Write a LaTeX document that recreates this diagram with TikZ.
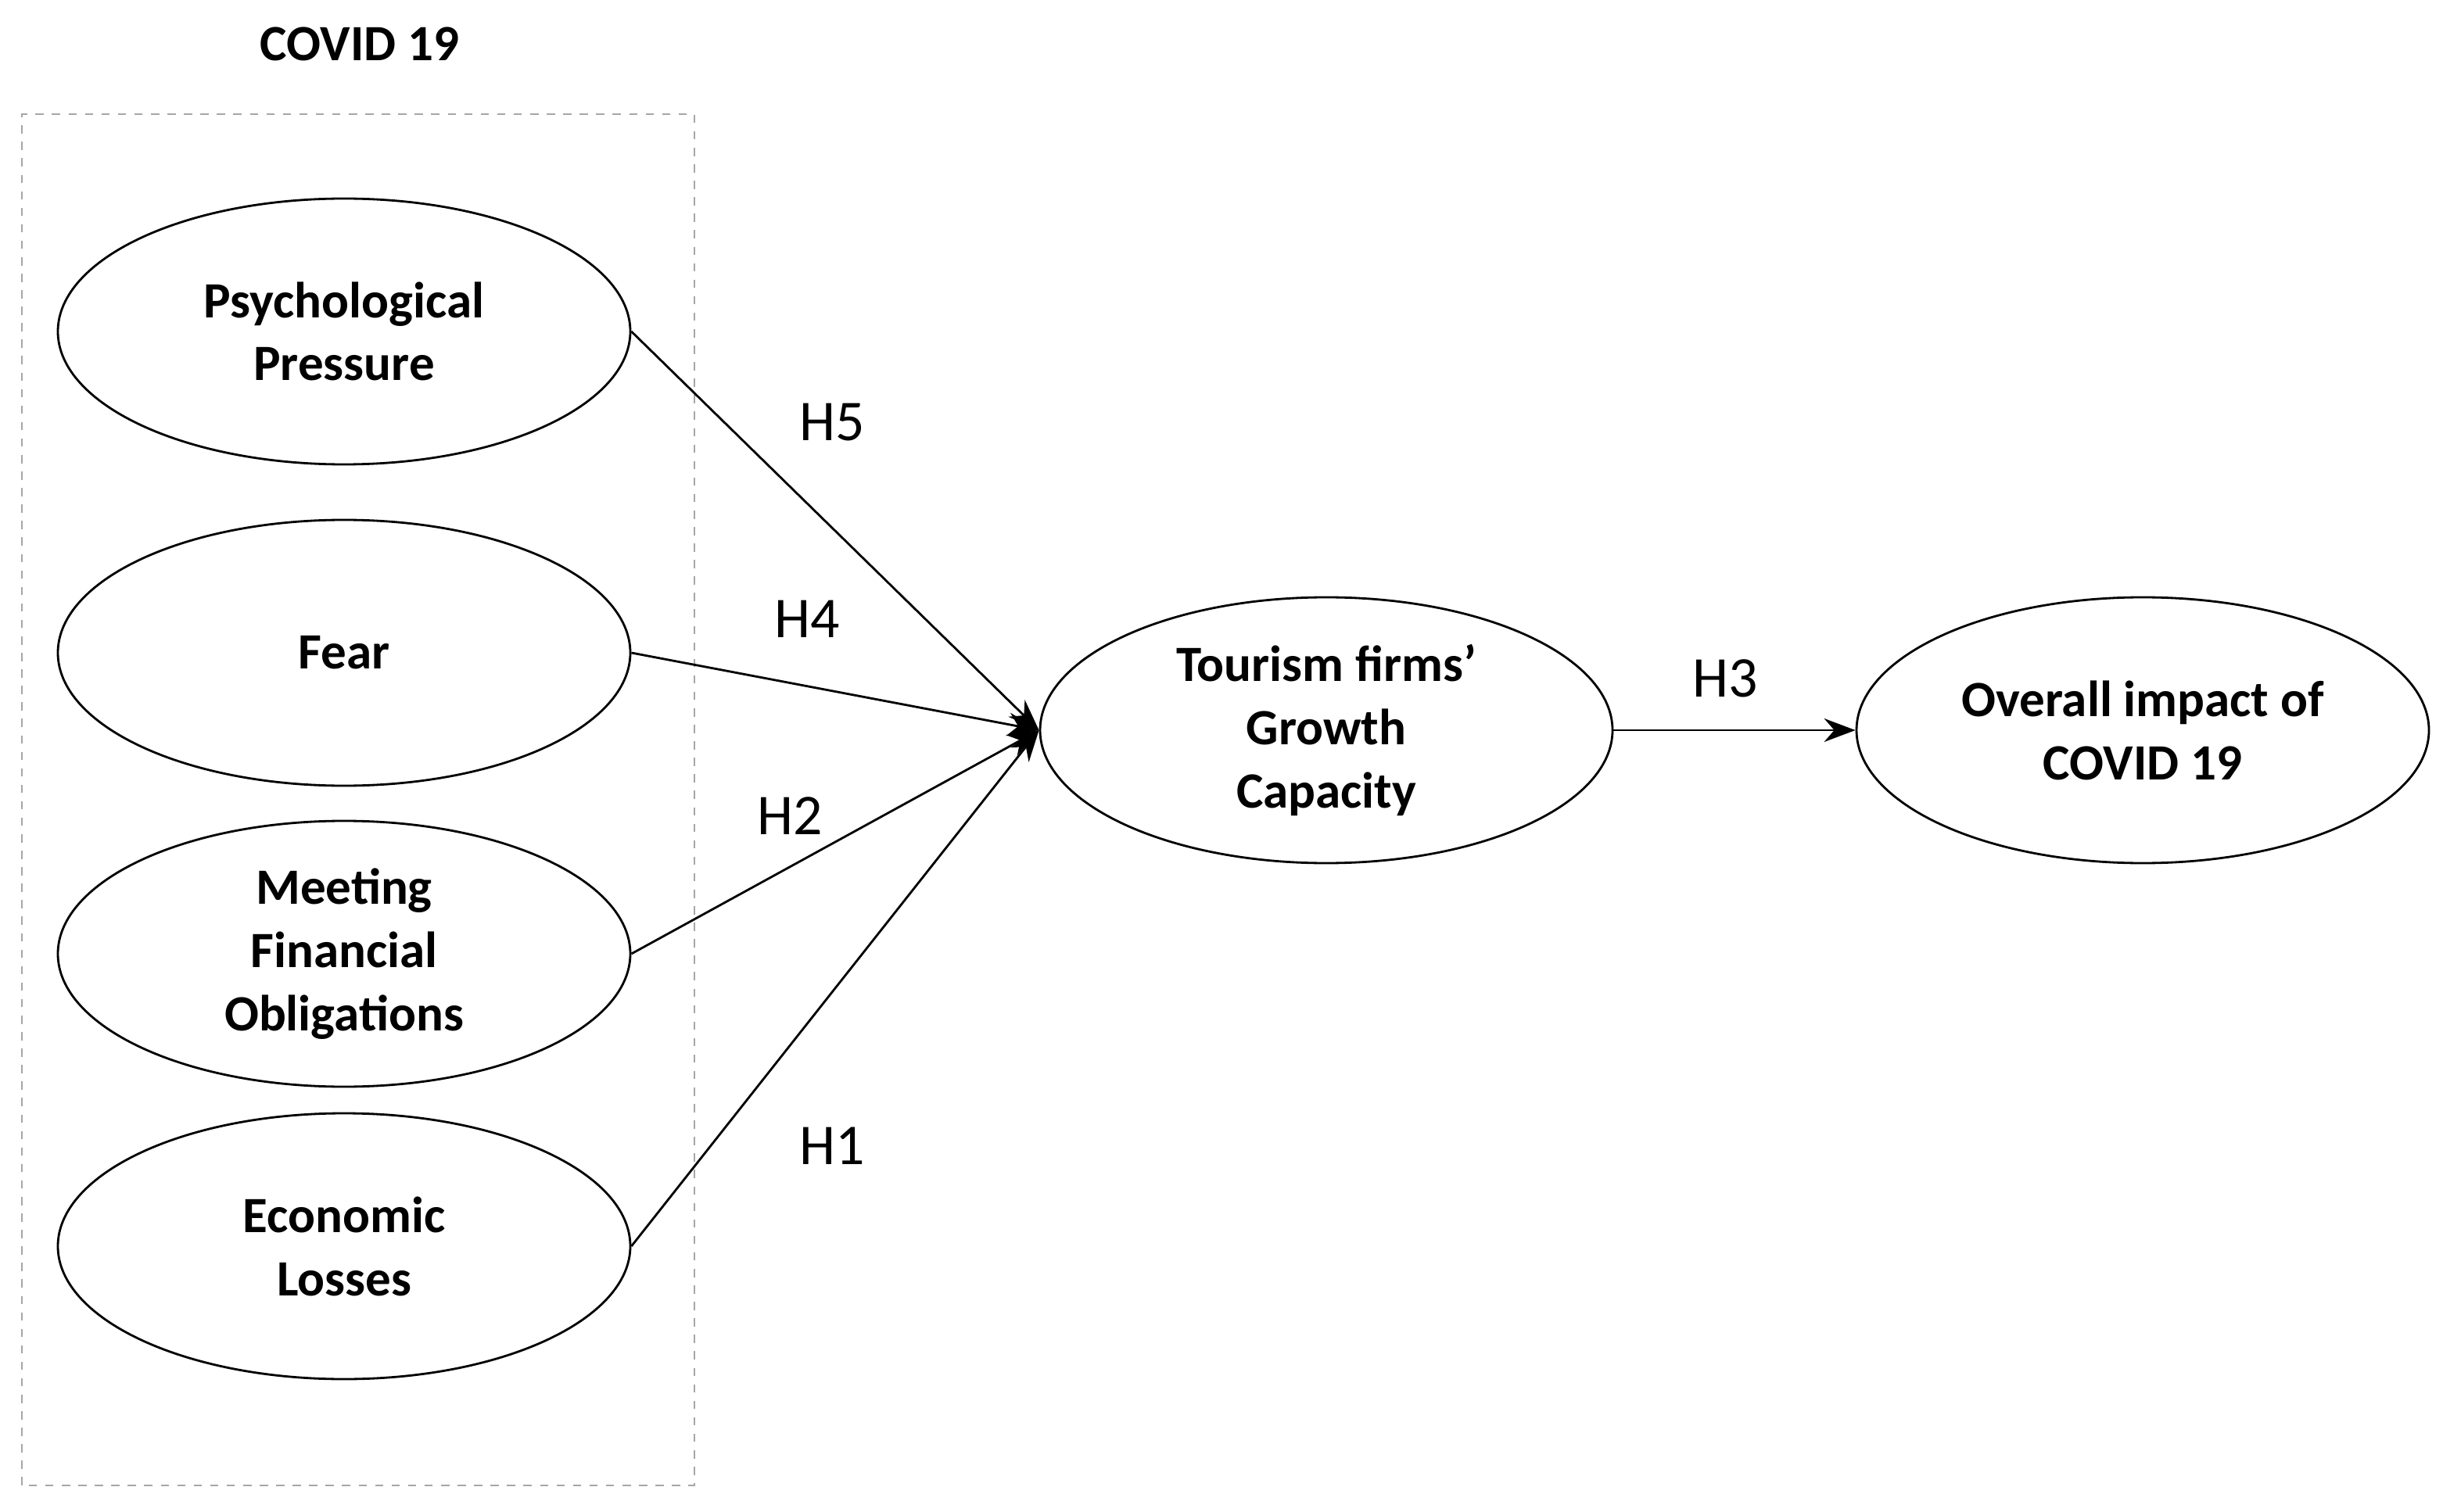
\documentclass[tikz,border=0pt]{standalone}
\usepackage{fontspec}
\setmainfont{Carlito}
\usetikzlibrary{positioning, arrows.meta, shapes.geometric}

\begin{document}
\begin{tikzpicture}[
    % styles for constructs and paths
    construct/.style={
        ellipse,
        draw=black,
        thick,
        minimum width=7.32cm,
        minimum height=3.4cm,
        inner sep=0pt,
        font=\bfseries\fontsize{18.5}{23}\selectfont,
        align=center,
        fill=white
    },
    path arrow/.style={
        -{Stealth[length=0.4cm, width=0.3cm]},
        thick
    },
    hyp/.style={
        font=\fontsize{21}{25}\selectfont
    }
]
    \useasboundingbox (0,0) rectangle (31.24,19.33);

    % --- dashed group ---
    \draw[gray!70, dashed, thick] (0.28,0.33) rectangle (8.88,17.87);
    \node[font=\bfseries\fontsize{18.5}{22}\selectfont] (covid) at (4.60,18.77) {COVID 19};

    % --- constructs ---
    \node[construct] (psych) at (4.40,15.09) {Psychological\\Pressure};
    \node[construct] (fear) at (4.40,10.98) {Fear};
    \node[construct] (finance) at (4.40,7.13) {Meeting\\Financial\\Obligations};
    \node[construct] (econ) at (4.40,3.39) {Economic\\Losses};
    \node[construct] (growth) at (16.96,9.99) {Tourism firms’\\Growth\\Capacity};
    \node[construct] (impact) at (27.40,9.99) {Overall impact of\\COVID 19};

    % --- paths ---
    \draw[path arrow] (psych.east) -- (growth.west);
    \draw[path arrow] (fear.east) -- (growth.west);
    \draw[path arrow] (finance.east) -- (growth.west);
    \draw[path arrow] (econ.east) -- (growth.west);
    \draw[path arrow] (growth.east) -- (impact.west);

    % --- hypothesis labels ---
    \node[hyp] (h5) at (10.64,13.93) {H5};
    \node[hyp] (h4) at (10.32,11.41) {H4};
    \node[hyp] (h2) at (10.10,8.89) {H2};
    \node[hyp] (h1) at (10.64,4.67) {H1};
    \node[hyp] (h3) at (22.06,10.65) {H3};

\end{tikzpicture}
\end{document}
